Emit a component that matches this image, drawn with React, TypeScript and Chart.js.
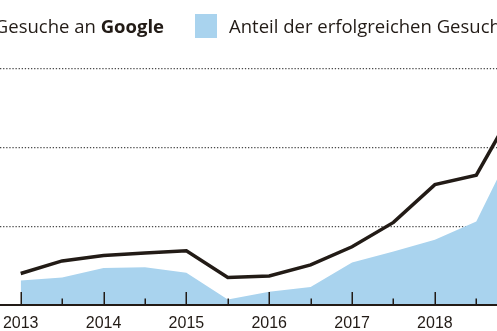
import React, { useEffect, useRef } from "react";
import { Chart, registerables } from "chart.js";

Chart.register(...registerables);

const periods = [2013, 2013.5, 2014, 2014.5, 2015, 2015.5, 2016, 2016.5, 2017, 2017.5, 2018, 2018.5, 2019];
const requests = [40, 56, 63, 66, 69, 35, 37, 51, 74, 105, 153, 165, 258];
const successShare = [31, 35, 47, 48, 41, 7, 17, 23, 54, 68, 83, 106, 213];
const yearTicks = [2013, 2014, 2015, 2016, 2017, 2018];
const halfYearMarks = [2013, 2013.5, 2014, 2014.5, 2015, 2015.5, 2016, 2016.5, 2017, 2017.5, 2018, 2018.5];
const legendLine = "Anzahl der Gesuche an ";
const legendLineBold = "Google";
const legendArea = "Anteil der erfolgreichen Gesuche";

const INK = "#221b16";
const BLUE = "#a9d3ee";
const FONT = "'Liberation Sans', Arial, sans-serif";
const LEGEND_FONT = "'Open Sans', 'Liberation Sans', sans-serif";

const axisPlugin = {
  id: "axisMarks",
  afterDatasetsDraw(chart: any) {
    const { ctx, chartArea, scales } = chart;
    const x = scales.x;
    const yb = chartArea.bottom;
    ctx.save();
    ctx.strokeStyle = INK;
    ctx.lineWidth = 1.5;
    halfYearMarks.forEach((v) => {
      const px = Math.round(x.getPixelForValue(v)) + 0.25;
      const major = Number.isInteger(v);
      ctx.beginPath();
      ctx.moveTo(px, yb);
      ctx.lineTo(px, yb - (major ? 13 : 6.5));
      ctx.stroke();
    });
    ctx.lineWidth = 2;
    ctx.beginPath();
    ctx.moveTo(0, yb);
    ctx.lineTo(chart.width, yb);
    ctx.stroke();
    ctx.restore();
  },
};

export default function App() {
  const ref = useRef<HTMLCanvasElement>(null);

  useEffect(() => {
    if (!ref.current) return;
    const chart = new Chart(ref.current, {
      type: "line",
      data: {
        datasets: [
          {
            label: legendLine + legendLineBold,
            data: periods.map((p, i) => ({ x: p, y: requests[i] })),
            borderColor: INK,
            borderWidth: 3.5,
            pointRadius: 0,
            tension: 0,
            fill: false,
          },
          {
            label: legendArea,
            data: periods.map((p, i) => ({ x: p, y: successShare[i] })),
            borderWidth: 0,
            borderColor: BLUE,
            backgroundColor: BLUE,
            pointRadius: 0,
            tension: 0,
            fill: "origin",
          },
        ],
      },
      options: {
        animation: false,
        responsive: false,
        layout: { padding: { top: 69, left: 0, right: 0, bottom: 0 } },
        plugins: { legend: { display: false }, tooltip: { enabled: false } },
        scales: {
          x: {
            type: "linear",
            min: 2012.75,
            max: 2018.75,
            grid: { display: false, drawTicks: false },
            border: { display: false },
            afterFit: (s: any) => {
              s.height = 26;
              s.paddingLeft = 0;
              s.paddingRight = 0;
            },
            afterBuildTicks: (s: any) => {
              s.ticks = yearTicks.map((v) => ({ value: v }));
            },
            ticks: {
              includeBounds: false,
              autoSkip: false,
              maxRotation: 0,
              padding: 9,
              color: INK,
              font: { family: FONT, size: 16 },
              callback: (v: any) => String(v),
            },
          },
          y: {
            min: 0,
            max: 300,
            ticks: { display: false, stepSize: 100 },
            afterFit: (s: any) => {
              s.width = 0;
              s.paddingTop = 0;
              s.paddingBottom = 0;
            },
            border: { display: false, dash: [1.3, 1.8] },
            grid: {
              drawTicks: false,
              color: "#4a4a4a",
              lineWidth: 1.3,
            },
          },
        },
      },
      plugins: [axisPlugin],
    } as any);
    return () => chart.destroy();
  }, []);

  const legendText: React.CSSProperties = {
    position: "absolute",
    top: 17,
    whiteSpace: "nowrap",
    fontFamily: LEGEND_FONT,
    fontSize: 18.5,
    lineHeight: "18px",
    color: INK,
  };

  return (
    <div
      style={{
        position: "fixed",
        left: 0,
        top: 0,
        width: 497,
        height: 331,
        overflow: "hidden",
        background: "#fff",
      }}
    >
      <canvas ref={ref} width={497} height={331} style={{ position: "absolute", left: 0, top: 0 }} />
      <div style={{ ...legendText, right: 497 - 164 }}>
        {legendLine}
        <b>{legendLineBold}</b>
      </div>
      <div
        style={{
          position: "absolute",
          left: 195,
          top: 14,
          width: 22,
          height: 24,
          background: BLUE,
        }}
      />
      <div style={{ ...legendText, left: 229 }}>{legendArea}</div>
    </div>
  );
}
